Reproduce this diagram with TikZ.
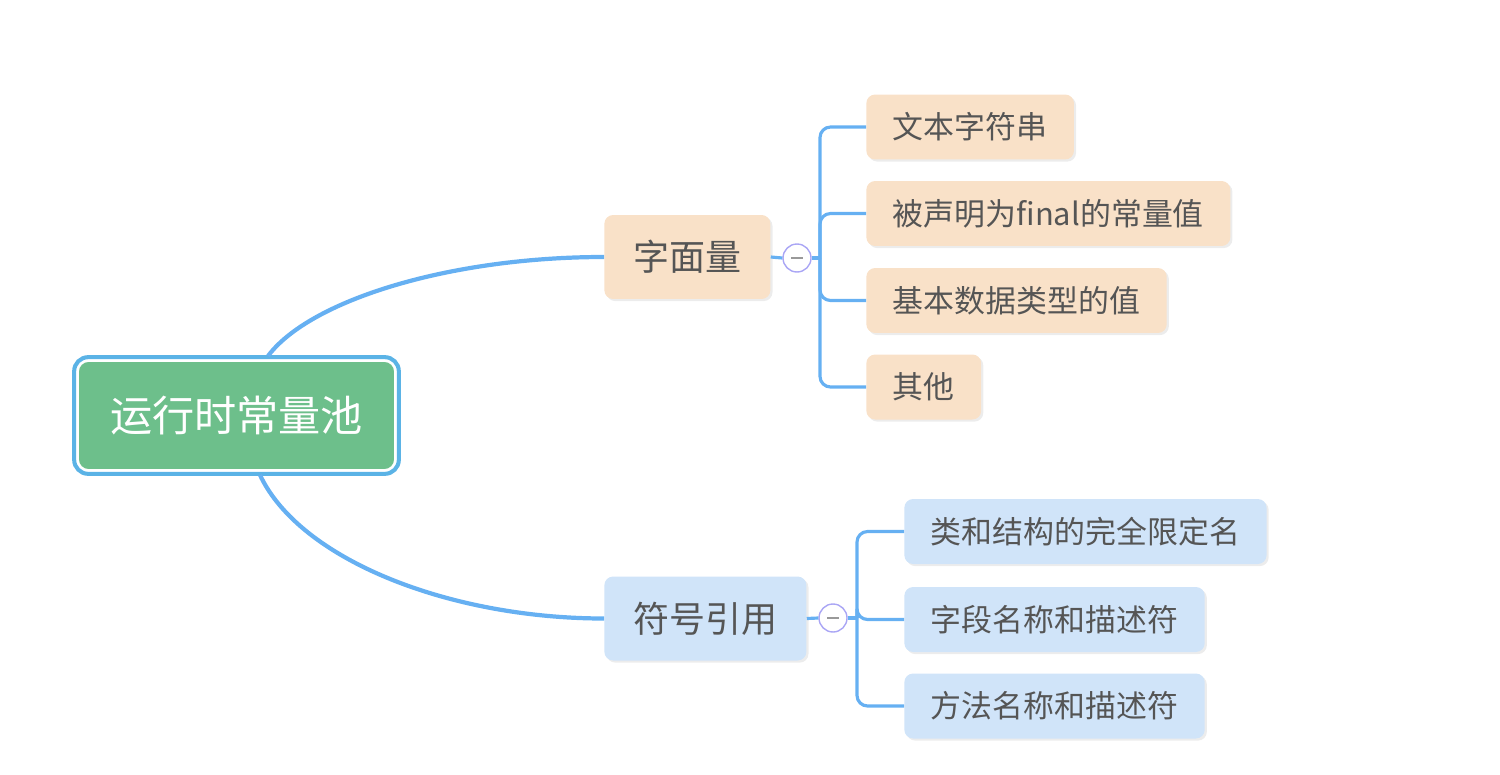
\documentclass[tikz,border=0pt]{standalone}
\usepackage{fontspec}
\setmainfont{Noto Sans CJK SC}
\usetikzlibrary{positioning, shadows, fit, calc}
\definecolor{linkblue}{HTML}{66B0F2}
\definecolor{rootgreen}{HTML}{6DBF8B}
\definecolor{rootedge}{HTML}{5BB3E6}
\definecolor{peach}{HTML}{F9E1C8}
\definecolor{paleblue}{HTML}{D0E4F9}
\definecolor{inkgray}{HTML}{555555}
\definecolor{knobedge}{HTML}{AAA6F5}
\tikzstyle{link} = [linkblue, line width=2.4pt]
\tikzstyle{stem} = [linkblue, line width=1.8pt]
\tikzstyle{branch} = [linkblue, line width=1.8pt, rounded corners=6pt]
\tikzstyle{topic} = [rectangle, rounded corners=5pt, text=inkgray, inner ysep=0pt, align=center,
    drop shadow={shadow xshift=1.2pt, shadow yshift=-1.2pt, opacity=0.15}]

\begin{document}
\begin{tikzpicture}[x=0.02cm, y=-0.02cm,
        roottopic/.style={rectangle, rounded corners=6pt, fill=rootgreen, draw=white, line width=1pt,
            minimum width=6.34cm, minimum height=2.18cm, text=white, font=\fontsize{24pt}{28pt}\selectfont},
        maintopic/.style={topic, inner xsep=0.58cm, minimum height=1.68cm, font=\fontsize{20.5pt}{24pt}\selectfont},
        subtopic/.style={topic, inner xsep=0.53cm, minimum height=1.3cm, font=\fontsize{17.6pt}{21pt}\selectfont},
        knob/.style={circle, minimum size=0.56cm, inner sep=0pt, draw=knobedge, fill=white, line width=0.8pt,
            path picture={\draw[inkgray!60, line width=0.7pt] ([xshift=-0.12cm]path picture bounding box.center) -- ([xshift=0.12cm]path picture bounding box.center);}}]

    \useasboundingbox (0,0) rectangle (1500,774);

    % root
    \node[roottopic] (pool) at (236.5,415.5) {运行时常量池};
    \node[draw=rootedge, line width=2.3pt, rounded corners=8pt, fit=(pool), inner sep=1.7pt] (poolring) {};

    % literals
    \node[maintopic, fill=peach, anchor=west] (lit) at (604,257) {字面量};
    \node[knob] (litknob) at (797,258) {};
    \coordinate (lithub) at (820,258);
    \node[subtopic, fill=peach, anchor=west] (textstr) at (866,127) {文本字符串};
    \node[subtopic, fill=peach, anchor=west] (finalval) at (866,213.5) {被声明为final的常量值};
    \node[subtopic, fill=peach, anchor=west] (basicval) at (866,300.5) {基本数据类型的值};
    \node[subtopic, fill=peach, anchor=west] (otherval) at (866,387) {其他};

    % symbolic references
    \node[maintopic, fill=paleblue, anchor=west] (sym) at (604,618.5) {符号引用};
    \node[knob] (symknob) at (833,618) {};
    \coordinate (symhub) at (857,618);
    \node[subtopic, fill=paleblue, anchor=west] (classname) at (904,531.5) {类和结构的完全限定名};
    \node[subtopic, fill=paleblue, anchor=west] (fieldname) at (904,619.5) {字段名称和描述符};
    \node[subtopic, fill=paleblue, anchor=west] (methodname) at (904,706) {方法名称和描述符};

    \coordinate (pooltop) at (268,356);
    \coordinate (poolbot) at (260,475);
    \draw[link] (pooltop) .. controls (310,300) and (450,257) .. (lit.west);
    \draw[link] (poolbot) .. controls (300,560) and (450,618.5) .. (sym.west);

    \draw[stem] (lit.east) -- (litknob.west);
    \draw[stem] (litknob.east) -- (lithub);
    \foreach \leaf in {textstr, finalval, basicval, otherval}
        \draw[branch] (lithub) |- (\leaf.west);

    \draw[stem] (sym.east) -- (symknob.west);
    \draw[stem] (symknob.east) -- (symhub);
    \foreach \leaf in {classname, fieldname, methodname}
        \draw[branch] (symhub) |- (\leaf.west);
\end{tikzpicture}
\end{document}
